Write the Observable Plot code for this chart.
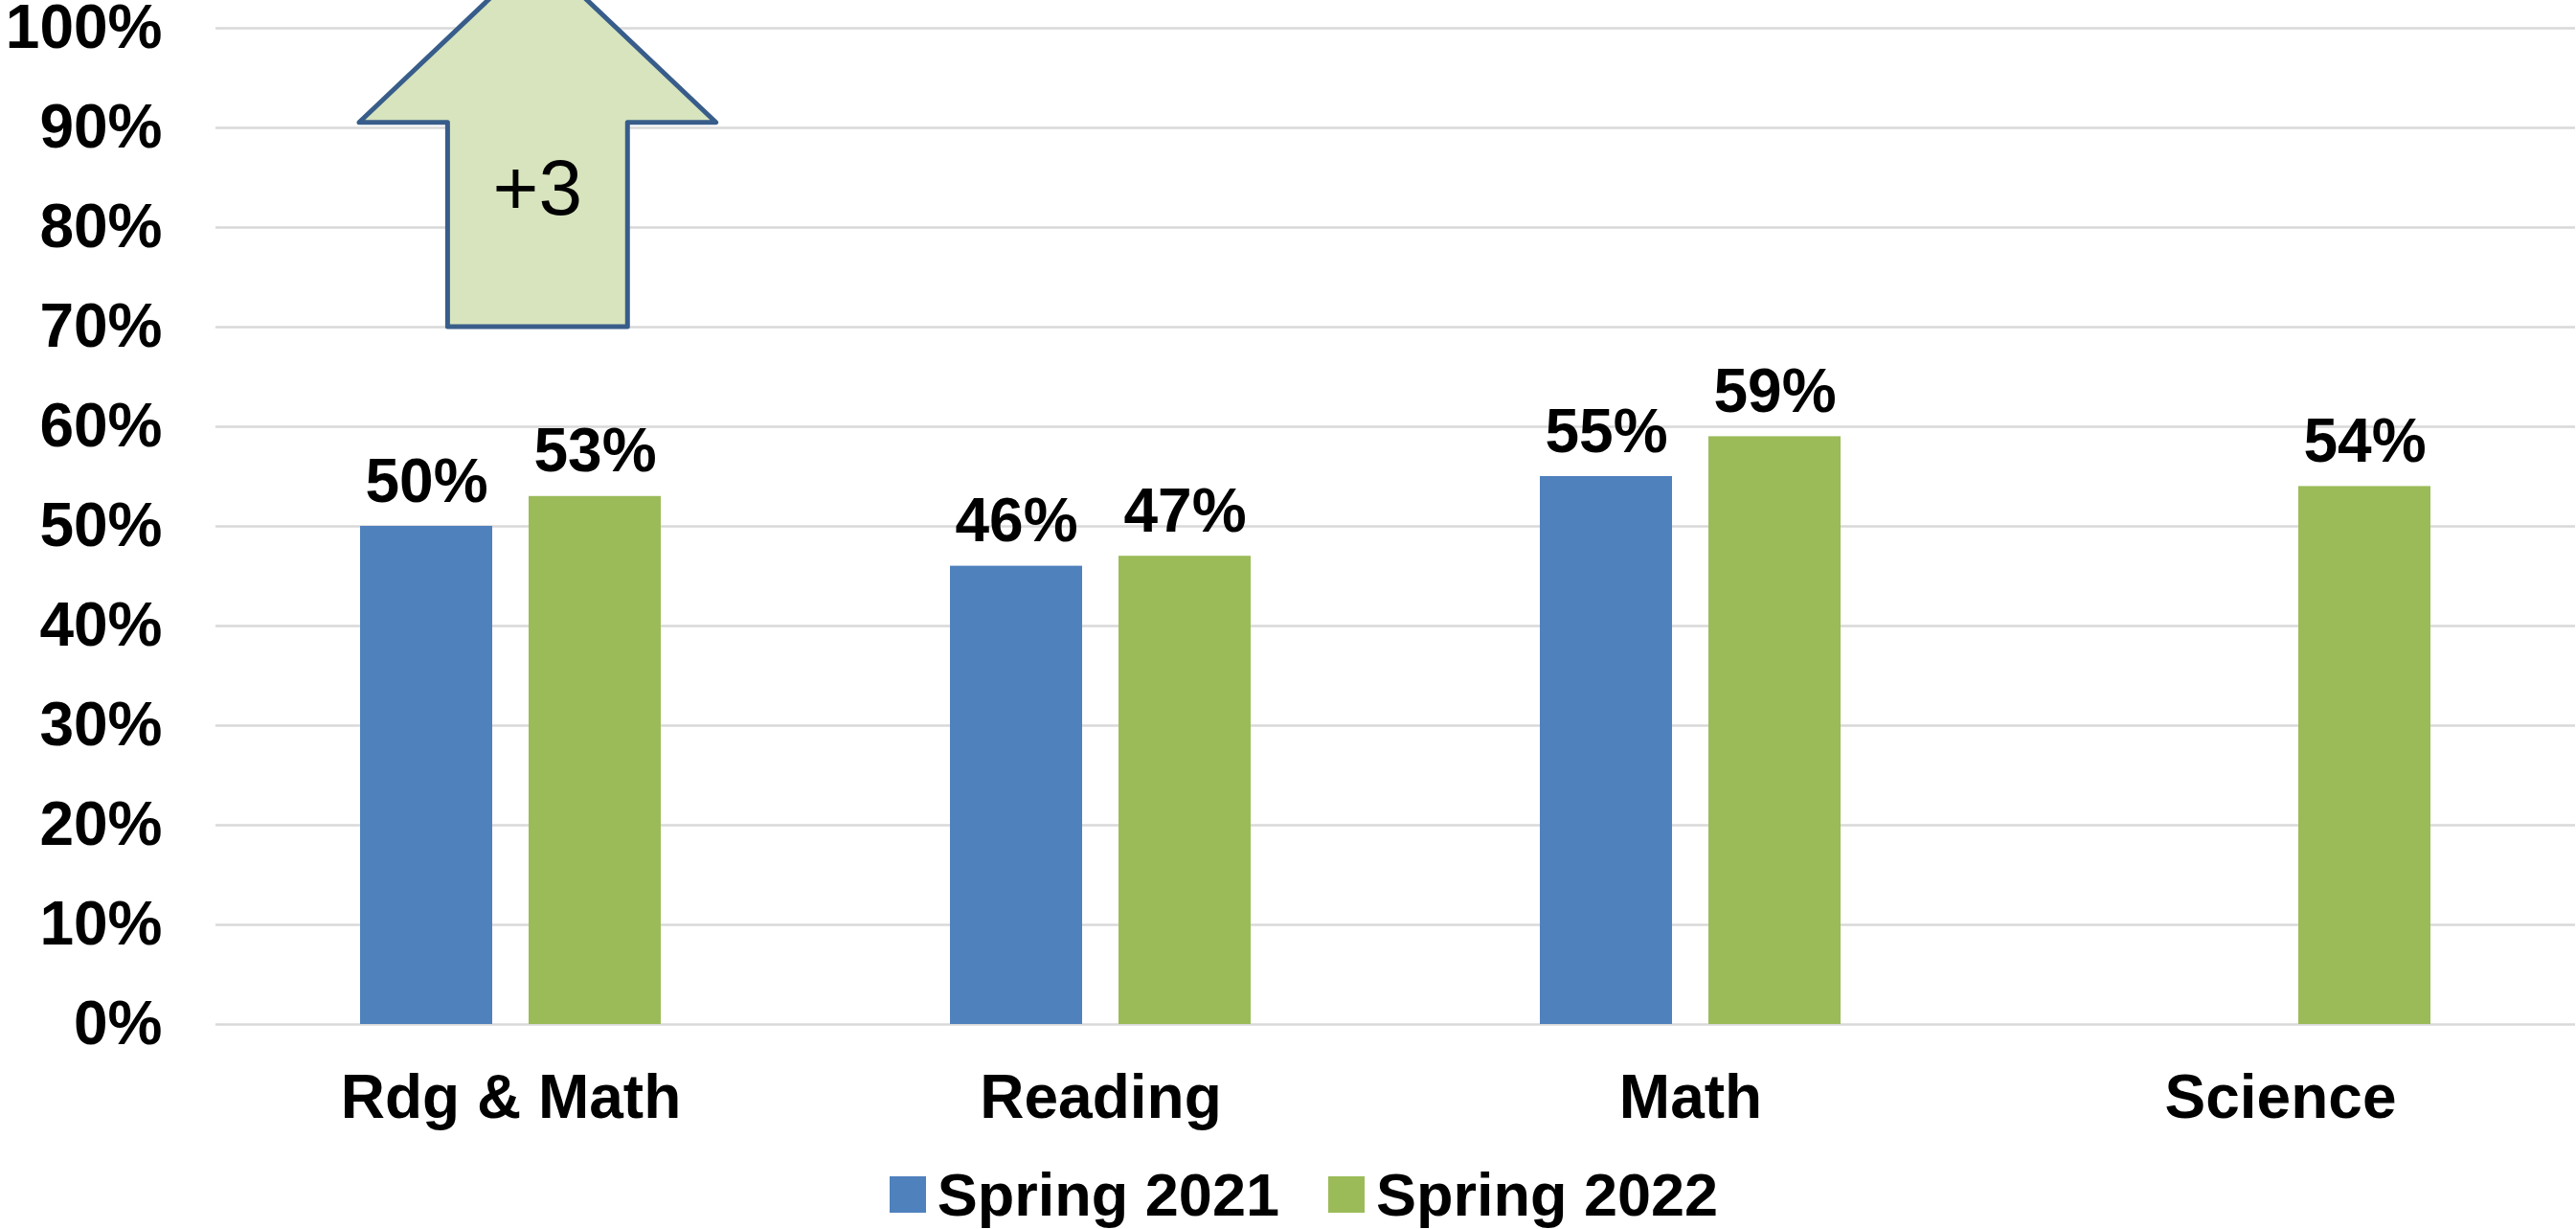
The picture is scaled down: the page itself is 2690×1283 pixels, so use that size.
<!DOCTYPE html>
<html><head><meta charset="utf-8">
<script src="https://cdn.jsdelivr.net/npm/d3@7"></script>
<script src="https://cdn.jsdelivr.net/npm/@observablehq/plot@0.6"></script>
<style>
html,body{margin:0;padding:0;background:#fff;}
body{width:2690px;height:1283px;overflow:hidden;font-family:"Liberation Sans",Arial,sans-serif;}
#chart svg{display:block;}
#legend{display:flex;justify-content:center;padding-left:33px;padding-top:22px;height:70px;}
.item{display:flex;align-items:center;font-weight:bold;font-size:63px;line-height:63px;color:#000;}
.item + .item{margin-left:51px;}
.sw{width:38px;height:38px;margin-right:12px;}
</style></head><body><div id="chart"></div><div id="legend"></div>
<script>
const categories = ["Rdg & Math", "Reading", "Math", "Science"];
const seriesNames = ["Spring 2021", "Spring 2022"];
const spring2021 = [50, 46, 55, null];
const spring2022 = [53, 47, 59, 54];
const seriesColors = ["#4F81BD", "#9BBB59"];
const yTicks = [0, 10, 20, 30, 40, 50, 60, 70, 80, 90, 100];
const arrowCategory = "Rdg & Math";
const arrowStart = 70, arrowHeadBase = 90.5, arrowTip = 107.5;
const arrowLabel = "+3", arrowLabelAt = 84;

const seriesValues = [spring2021, spring2022];
const rows = [];
categories.forEach((c, i) => seriesNames.forEach((s, j) => {
  const v = seriesValues[j][i];
  if (v != null) rows.push({category: c, series: s, value: v});
}));

const plot = Plot.plot({
  width: 2690, height: 1190,
  marginTop: 29, marginBottom: 121, marginLeft: 224, marginRight: 0,
  style: {fontFamily: "'Liberation Sans', Arial, sans-serif", fontSize: "64px", fontWeight: "bold", color: "#000", background: "#fff"},
  fx: {domain: categories, padding: 0, axis: "bottom", label: null, tickSize: 0, tickPadding: 52},
  x: {domain: seriesNames, axis: null, paddingInner: 0.215, paddingOuter: 0.849},
  y: {domain: [0, 100], ticks: yTicks, tickFormat: d => d + "%", tickSize: 0, tickPadding: 56, label: null},
  color: {domain: seriesNames, range: seriesColors},
  marks: [
    Plot.ruleY(yTicks, {stroke: "#D9D9D9", strokeWidth: 2.5}),
    Plot.barY(rows, {fx: "category", x: "series", y: "value", fill: "series"}),
    Plot.text(rows, {fx: "category", x: "series", y: "value", text: d => d.value + "%", lineAnchor: "bottom", dy: -26, fontSize: 64, fontWeight: "bold", fill: "#000"})
  ]
});
document.getElementById("chart").appendChild(plot);

// Arrow annotation placed via the plot's scales
const fxS = plot.scale("fx"), yS = plot.scale("y");
const bx = fxS.apply(arrowCategory), bw = fxS.bandwidth;
const cx = bx + 0.546 * bw, headHalf = 0.3025 * bw, shaftHalf = 0.1525 * bw;
const yT = yS.apply(arrowTip), yH = yS.apply(arrowHeadBase), yB = yS.apply(arrowStart);
const pts = [[cx, yT], [cx + headHalf, yH], [cx + shaftHalf, yH], [cx + shaftHalf, yB], [cx - shaftHalf, yB], [cx - shaftHalf, yH], [cx - headHalf, yH]];
const svg = d3.select(plot);
svg.append("polygon").attr("points", pts.map(p => p.join(",")).join(" "))
  .attr("fill", "#D7E4BD").attr("stroke", "#385D8A").attr("stroke-width", 5).attr("stroke-linejoin", "round");
svg.append("text").attr("x", cx).attr("y", yS.apply(arrowLabelAt)).attr("dy", "0.35em")
  .attr("text-anchor", "middle").attr("font-size", 82).attr("font-weight", "normal").attr("fill", "#000").text(arrowLabel);

// Legend
const legend = d3.select("#legend");
seriesNames.forEach((s, i) => {
  const it = legend.append("div").attr("class", "item");
  it.append("div").attr("class", "sw").style("background", seriesColors[i]);
  it.append("span").text(s);
});
</script></body></html>
